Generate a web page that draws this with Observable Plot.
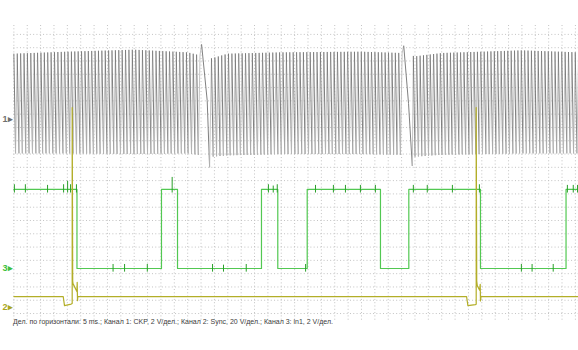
<!DOCTYPE html>
<html><head><meta charset="utf-8">
<script src="https://cdn.jsdelivr.net/npm/d3@7"></script>
<script src="https://cdn.jsdelivr.net/npm/@observablehq/plot@0.6"></script>
<style>
body{margin:0;background:#fff;}
#wrap{position:relative;width:578px;height:350px;overflow:hidden;}
#cap{position:absolute;left:13px;top:318px;font:7px "Liberation Sans",Arial,sans-serif;color:#3c3c3c;white-space:nowrap;}
</style>
</head><body><div id="wrap"><div id="chart"></div><div id="cap"></div></div>
<script>
// ---- scope settings (time in ms, 5 ms per division) ----
const captionText = "Дел. по горизонтали: 5 ms.; Канал 1: CKP, 2 V/дел.; Канал 2: Sync, 20 V/дел.; Канал 3: in1, 2 V/дел.";
const gridTimes = d3.range(0, 211, 5);          // vertical grid lines (ms)
const gridDivs = d3.range(0, 22);               // horizontal grid lines (divisions)
const channelLabels = ["1", "2", "3"];
const channelZeroDiv = [14.6, 0.45, 3.39];      // zero level of each channel, in divisions
const channelVoltsPerDiv = [2, 20, 2];
const channelColors = ["#6f6f6f", "#a9a61e", "#3cbf3c"];

// ---- Channel 1: CKP (60-2 wheel) ----
const ckpSegStart = [0, 73.9, 149.4];           // ms, start of each run of teeth
const ckpSegEnd = [69.6, 145.2, 211.2];         // ms, end of each run
const ckpSegTeeth = [55, 56, 49];               // teeth counted in each run
const ckpEnvT   = [0, 20, 45, 65, 74, 80, 100, 130, 145, 150, 160, 190, 211];
const ckpEnvTop = [9.9, 10.2, 10.5, 10.1, 9.2, 9.9, 10.1, 10.2, 10.0, 9.5, 10.0, 10.4, 10.1];
const ckpEnvBot = [-5.1, -5.1, -5.2, -5.1, -5.6, -5.4, -5.2, -5.2, -5.3, -5.6, -5.3, -5.1, -5.1];
const ckpGapT = [[70.2, 72.3, 73.2], [145.8, 147.6, 149.0]];
const ckpGapV = [[11.3, 2.86, -7.2], [11.1, 2.4, -7.0]];

// ---- Channel 3: in1 (green) ----
const in1EdgeT = [0, 23.6, 55.2, 61.2, 92.6, 98.7, 109.7, 137.1, 147.7, 174.5, 206.5, 211.2];
const in1EdgeV = [11.9, 0, 11.9, 0, 11.9, 0, 11.9, 0, 11.9, 0, 11.9, 11.9];
const in1GlitchT = [0.2, 4.3, 12.6, 18.6, 20.1, 21.2, 23.4, 37.1, 41.4, 49.9, 59.2, 74.3, 78.4, 86.9,
  95.2, 97.0, 98.5, 109.1, 112.8, 119.5, 124.0, 129.6, 135.2, 149.4, 154.6, 164.0, 174.1,
  189.8, 193.8, 201.7, 207.0, 209.2, 210.8];
const in1GlitchUp = [0.7, 0.7, 0.6, 0.7, 1.2, 0.7, 0.7, 0.6, 0.6, 0.6, 1.8, 0.6, 0.5, 0.6,
  0.7, 0.5, 0.7, 0.6, 0.6, 0.6, 0.6, 0.6, 0.6, 0.6, 0.6, 0.6, 0.7,
  0.6, 0.6, 0.6, 0.6, 0.6, 0.6];

// ---- Channel 2: Sync (yellow) ----
const syncT = [0, 18.45, 18.93, 21.44, 21.81, 21.81, 22.0, 22.11, 23.61, 23.68, 23.80, 23.91,
  169.3, 169.8, 172.6, 172.9, 172.9, 173.1, 173.3, 174.2, 174.4, 174.5, 174.7, 211.2];
const syncV = [16.6, 16.6, 3.0, 5.3, 6.0, 301, 40, 36, 24, 38, 10.5, 16.6,
  16.6, 3.0, 4.5, 5.0, 301, 40, 33, 26, 35, 10, 16.6, 16.6];

// ---- build tables ----
const toDiv = (ch, v) => channelZeroDiv[ch] + v / channelVoltsPerDiv[ch];
const env = (arr, t) => {
  const i = Math.max(1, d3.bisectLeft(ckpEnvT, t));
  const t0 = ckpEnvT[i - 1], t1 = ckpEnvT[Math.min(i, ckpEnvT.length - 1)];
  const a = arr[i - 1], b = arr[Math.min(i, arr.length - 1)];
  return t1 === t0 ? a : a + (b - a) * (t - t0) / (t1 - t0);
};
const ckp = [];
ckpSegStart.forEach((s, k) => {
  const n = ckpSegTeeth[k], p = (ckpSegEnd[k] - s) / n;
  for (let i = 0; i < n; i++) {
    const t0 = s + i * p;
    ckp.push({t: t0, v: env(ckpEnvTop, t0)});
    ckp.push({t: t0 + p / 2, v: env(ckpEnvBot, t0 + p / 2)});
  }
  ckp.push({t: ckpSegEnd[k], v: env(ckpEnvTop, ckpSegEnd[k])});
  if (ckpGapT[k]) ckpGapT[k].forEach((t, j) => ckp.push({t, v: ckpGapV[k][j]}));
});
ckp.forEach(d => d.d = toDiv(0, d.v));
const ckpLinks = d3.pairs(ckp).map(([a, b]) => ({x1: a.t, y1: a.d, x2: b.t, y2: b.d, rising: b.d > a.d}));

const in1 = in1EdgeT.map((t, i) => ({t, d: toDiv(2, in1EdgeV[i])}));
const levelAt = t => in1EdgeV[Math.max(0, d3.bisectRight(in1EdgeT, t) - 1)];
const glitches = in1GlitchT.map((t, i) => {
  const lv = levelAt(t);
  return {t, y1: toDiv(2, lv - 0.55), y2: toDiv(2, lv + in1GlitchUp[i])};
});
const sync = syncT.map((t, i) => ({t, d: toDiv(1, syncV[i])}));
const labels = channelLabels.map((c, i) => ({c: c + "\u25B8", d: channelZeroDiv[i], color: channelColors[i]}));

const chart = Plot.plot({
  width: 578, height: 350, margin: 0,
  style: {background: "#fff", overflow: "visible"},
  x: {domain: [-5, 211.16], axis: null},
  y: {domain: [-2.78, 23.55], axis: null},
  marks: [
    Plot.ruleX(gridTimes, {x: d => d, y1: -0.5, y2: 21.8, stroke: "#c2c2c2", strokeWidth: 1, strokeDasharray: "1,2.3"}),
    Plot.ruleY(gridDivs, {y: d => d, x1: 0, x2: 211.16, stroke: "#c2c2c2", strokeWidth: 1, strokeDasharray: "1,2.3"}),
    Plot.link(ckpLinks, {x1: "x1", y1: "y1", x2: "x2", y2: "y2",
      stroke: d => d.rising ? "#bdbdbd" : "#727272", strokeWidth: 0.9}),
    Plot.line(in1, {x: "t", y: "d", stroke: "#52c852", strokeWidth: 1.2, curve: "step-after"}),
    Plot.ruleX(glitches, {x: "t", y1: "y1", y2: "y2", stroke: "#2a9f2a", strokeWidth: 1}),
    Plot.line(sync, {x: "t", y: "d", stroke: "#b3ae28", strokeWidth: 1.2, curve: "linear"}),
    Plot.text(labels, {frameAnchor: "left", y: "d", text: "c", fill: "color", dx: 2, textAnchor: "start",
      fontSize: 9, fontWeight: "bold", fontFamily: "Liberation Sans, Arial, sans-serif"})
  ]
});
document.getElementById("chart").append(chart);
document.getElementById("cap").textContent = captionText;
</script>
</body></html>
